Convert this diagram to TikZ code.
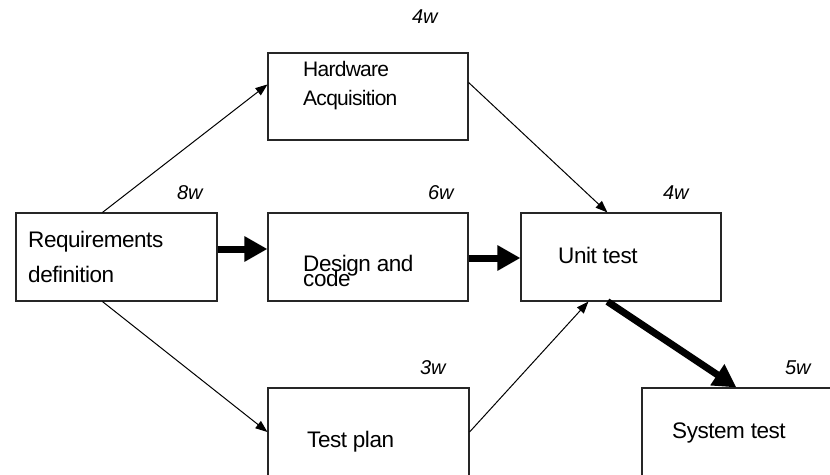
\documentclass[tikz,border=0pt]{standalone}
\usepackage{fontspec}
\setmainfont{Liberation Sans}
\usetikzlibrary{arrows.meta,calc}
\begin{document}
\begin{tikzpicture}[x=1pt,y=-1pt,
  box/.style={draw=black!85,line width=1.1pt,minimum width=201pt,minimum height=88pt,inner sep=0pt},
  txt/.style={anchor=base west,inner sep=0pt,font=\fontsize{22.5}{27}\selectfont\addfontfeatures{LetterSpace=-2}},
  hwtxt/.style={txt,font=\fontsize{21}{25}\selectfont\addfontfeatures{LetterSpace=-3.5}},
  dur/.style={anchor=base west,inner sep=0pt,font=\fontsize{20}{24}\selectfont\itshape\addfontfeatures{LetterSpace=-1}},
  thin/.style={line width=1pt,-{Triangle[length=12pt,width=9pt]}},
  fat/.style={line width=7pt,-{Triangle[length=23pt,width=24pt]}}]
\useasboundingbox (0,0) rectangle (830,474);
\clip (0,0) rectangle (830,474);
% boxes
\node[box] (req) at (116.5,257) {};
\node[box,minimum width=200pt,minimum height=87pt] (hw) at (368,96.5) {};
\node[box,minimum width=200pt] (dc) at (368,257) {};
\node[box,minimum width=200pt] (ut) at (621,257) {};
\node[box] (tp) at (368.5,432) {};
\node[box] (st) at (742.5,432) {};
% texts
\node[txt] (t1) at (28,247) {Requirements};
\node[txt] (t2) at (28,282) {definition};
\node[hwtxt] (t3) at (303,76) {Hardware};
\node[hwtxt] (t4) at (303,105) {Acquisition};
\node[txt] (t5) at (303,271) {Design and};
\node[txt] (t6) at (303,286) {code};
\node[txt] (t7) at (558,263) {Unit test};
\node[txt] (t8) at (307,447) {Test plan};
\node[txt] (t9) at (672,438) {System test};
% durations
\node[dur] (d1) at (412,23) {4w};
\node[dur] (d2) at (177,199) {8w};
\node[dur] (d3) at (428,199) {6w};
\node[dur] (d4) at (663,199) {4w};
\node[dur] (d5) at (420,374) {3w};
\node[dur] (d6) at (785,374) {5w};
% connectors
\draw[thin] ([xshift=87pt]req.north west) -- ([yshift=-32pt]hw.north west);
\draw[thin] ([xshift=87pt]req.south west) -- (tp.west);
\draw[fat] ([yshift=8pt]req.east) -- ([yshift=8pt]dc.west);
\draw[fat] ([yshift=-1pt]dc.east) -- ([yshift=-1pt]ut.west);
\draw[thin] ([yshift=-30pt]hw.north east) -- ([xshift=87pt]ut.north west);
\draw[thin] (tp.east) -- ([xshift=68pt]ut.south west);
\draw[fat] ([xshift=87pt]ut.south west) -- ([xshift=95pt]st.north west);
\end{tikzpicture}
\end{document}
